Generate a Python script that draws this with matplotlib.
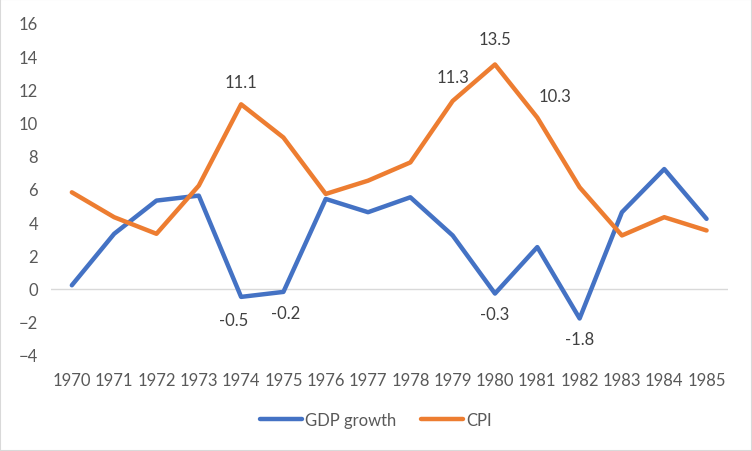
import numpy as np
import matplotlib
matplotlib.use("Agg")
import matplotlib.pyplot as plt
from matplotlib.patches import Rectangle

years = [str(y) for y in range(1970, 1986)]
gdp_growth = [0.2, 3.3, 5.3, 5.6, -0.5, -0.2, 5.4, 4.6, 5.5, 3.2, -0.3, 2.5, -1.8, 4.6, 7.2, 4.2]
cpi = [5.8, 4.3, 3.3, 6.2, 11.1, 9.1, 5.7, 6.5, 7.6, 11.3, 13.5, 10.3, 6.1, 3.2, 4.3, 3.5]

# labelled points: index -> offset in pixels
cpi_labels = {4: (0, 22), 9: (0, 24), 10: (0, 25), 11: (18, 22)}
gdp_labels = {4: (-7, -23), 5: (2, -21), 10: (0, -20), 12: (0, -21)}

plt.rcParams['font.family'] = ['Lato', 'DejaVu Sans']
txt = "#595959"
fs = 12

fig = plt.figure(figsize=(7.52, 4.52), dpi=100)
ax = fig.add_axes([0.0674, 0.2124, 0.9003, 0.7346])

x = np.arange(len(years))
ax.plot(x, gdp_growth, color="#4472C4", lw=3.2, label="GDP growth", solid_capstyle="round")
ax.plot(x, cpi, color="#ED7D31", lw=3.2, label="CPI", solid_capstyle="round")

for i, (dx, dy) in cpi_labels.items():
    ax.annotate(f"{cpi[i]:.1f}", (x[i], cpi[i]), xytext=(dx, dy), textcoords="offset pixels",
                ha="center", va="center", fontsize=fs, color="#404040")
for i, (dx, dy) in gdp_labels.items():
    ax.annotate(f"{gdp_growth[i]:.1f}", (x[i], gdp_growth[i]), xytext=(dx, dy), textcoords="offset pixels",
                ha="center", va="center", fontsize=fs, color="#404040")

ax.set_xlim(-0.5, len(years) - 0.5)
ax.set_ylim(-4, 16)
ax.set_yticks(range(-4, 17, 2))
ax.set_xticks(x)
ax.set_xticklabels(years)
ax.axhline(0, color="#D9D9D9", lw=1, zorder=0)
for s in ax.spines.values():
    s.set_visible(False)
ax.tick_params(length=0, labelsize=fs, colors=txt)
ax.tick_params(axis="y", pad=9)
ax.tick_params(axis="x", pad=12)

leg = fig.legend(loc="center", bbox_to_anchor=(0.5, 1 - 421 / 452), ncol=2, frameon=False,
                 fontsize=fs, handlelength=2.5, columnspacing=1.5, handletextpad=0.2)
for t in leg.get_texts():
    t.set_color(txt)

fig.patches.append(Rectangle((0, 0), 1, 1, transform=fig.transFigure, fill=False,
                             edgecolor="#D9D9D9", lw=1.5))

fig.savefig("out.png", dpi=100)
